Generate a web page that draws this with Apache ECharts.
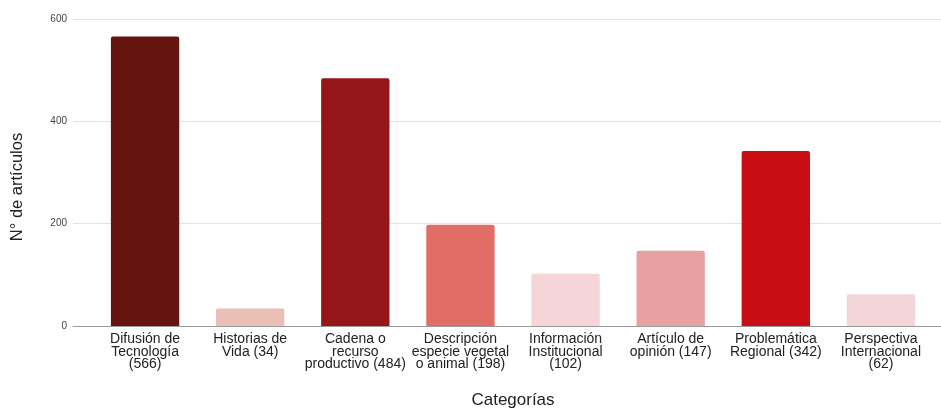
<!DOCTYPE html>
<html>
<head>
<meta charset="utf-8">
<script src="https://cdn.jsdelivr.net/npm/echarts@6/dist/echarts.min.js"></script>
<style>
  html, body { margin: 0; padding: 0; background: #fff; }
  #chart { width: 941px; height: 408px; }
</style>
</head>
<body>
<div id="chart"></div>
<script>
// Article counts per category
const categories = [
  'Difusión de\nTecnología\n(566)',
  'Historias de\nVida (34)',
  'Cadena o\nrecurso\nproductivo (484)',
  'Descripción\nespecie vegetal\no animal (198)',
  'Información\nInstitucional\n(102)',
  'Artículo de\nopinión (147)',
  'Problemática\nRegional (342)',
  'Perspectiva\nInternacional\n(62)'
];
const articleCounts = [566, 34, 484, 198, 102, 147, 342, 62];
const barColors = ['#651410', '#e9bfb6', '#961519', '#e06e67', '#f5d5d7', '#e8a1a1', '#c90d14', '#f5d6d8'];
const yTicks = [0, 200, 400, 600];

const FONT = '"Liberation Sans", Arial, sans-serif';
const yMin = yTicks[0], yMax = yTicks[yTicks.length - 1], yStep = yTicks[1] - yTicks[0];

const chart = echarts.init(document.getElementById('chart'));
chart.setOption({
  animation: false,
  textStyle: { fontFamily: FONT },
  grid: [
    // frame for gridlines and the value axis
    { left: 73, right: 0, top: 19, bottom: 82, containLabel: false, outerBoundsMode: 'none' },
    // bars and category labels
    { left: 92.5, right: 7.5, top: 19, bottom: 82, containLabel: false, outerBoundsMode: 'none' }
  ],
  xAxis: [
    {
      gridIndex: 0, type: 'value', min: 0, max: 1,
      axisLine: { show: true, lineStyle: { color: '#9a9a9a', width: 1 } },
      axisTick: { show: false }, axisLabel: { show: false }, splitLine: { show: false }
    },
    {
      gridIndex: 1, type: 'category', data: categories,
      axisLine: { show: false }, axisTick: { show: false },
      axisLabel: {
        interval: 0, margin: 7, color: '#222', fontSize: 14, lineHeight: 12.5,
        fontFamily: FONT
      },
      name: 'Categorías', nameLocation: 'middle', nameGap: 66,
      nameTextStyle: { color: '#222', fontSize: 17, fontFamily: FONT }
    }
  ],
  yAxis: [
    {
      gridIndex: 0, type: 'value', min: yMin, max: yMax, interval: yStep,
      axisLine: { show: false }, axisTick: { show: false },
      axisLabel: { color: '#444', fontSize: 10, margin: 6, fontFamily: FONT },
      splitLine: { lineStyle: { color: '#e2e2e2', width: 1 } }
    },
    {
      gridIndex: 1, type: 'value', min: yMin, max: yMax, interval: yStep,
      show: false, splitLine: { show: false }
    }
  ],
  graphic: [
    {
      type: 'text', x: 17, y: 187, rotation: Math.PI / 2,
      style: {
        text: 'N° de artículos', fill: '#222', fontSize: 16.5, fontFamily: FONT,
        align: 'center', verticalAlign: 'middle'
      }
    }
  ],
  series: [
    {
      type: 'bar', xAxisIndex: 1, yAxisIndex: 1,
      barCategoryGap: '35%',
      data: articleCounts.map((v, i) => ({ value: v, itemStyle: { color: barColors[i] } })),
      itemStyle: { borderRadius: [2, 2, 0, 0] }
    }
  ]
});
</script>
</body>
</html>
